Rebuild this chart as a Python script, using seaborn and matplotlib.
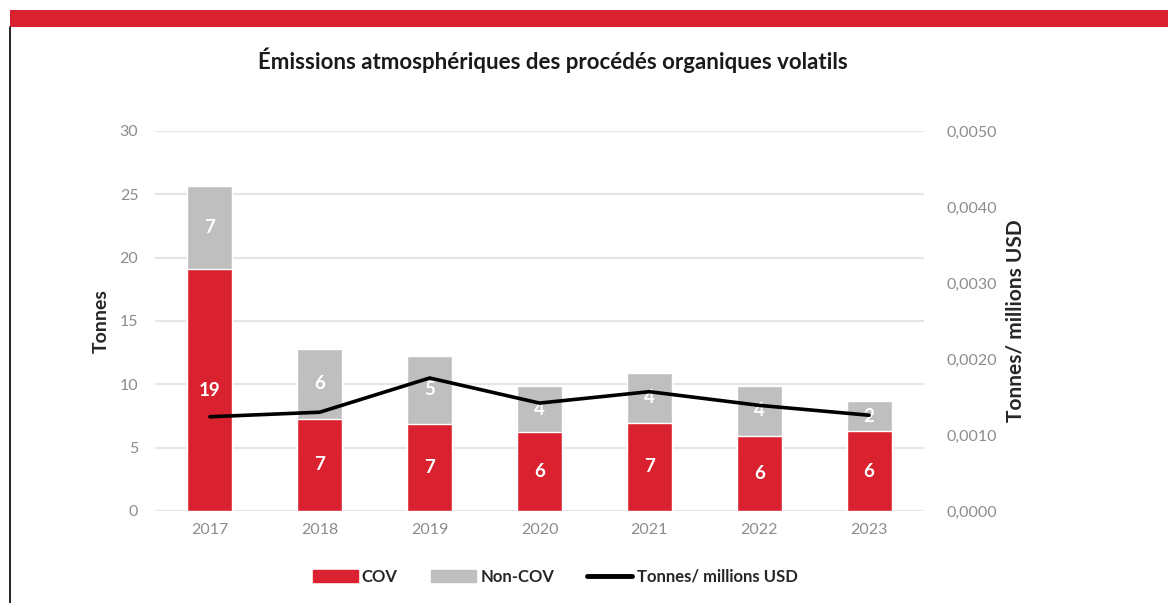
import numpy as np
import pandas as pd
import matplotlib
matplotlib.use("Agg")
import matplotlib.pyplot as plt
import seaborn as sb
from matplotlib.patches import Patch, Rectangle
from matplotlib.lines import Line2D
from matplotlib.ticker import FuncFormatter

years = ["2017", "2018", "2019", "2020", "2021", "2022", "2023"]
cov = [19.1, 7.3, 6.9, 6.2, 6.95, 5.9, 6.3]
non_cov = [6.55, 5.5, 5.35, 3.7, 3.95, 4.0, 2.4]
cov_labels = ["19", "7", "7", "6", "7", "6", "6"]
non_cov_labels = ["7", "6", "5", "4", "4", "4", "2"]
intensity = [0.00124, 0.00130, 0.00175, 0.00142, 0.00157, 0.00139, 0.00126]

red = "#D9212F"
grey = "#BFBFBF"
tick_grey = "#8C8C8C"

sb.set_style("white")
plt.rcParams['font.family'] = ['Lato', 'DejaVu Sans']

df = pd.DataFrame({"year": years, "cov": cov, "non_cov": non_cov, "intensity": intensity})
df["total"] = df["cov"] + df["non_cov"]

fig = plt.figure(figsize=(11.68, 6.03), dpi=100)
ax = fig.add_axes([155/1168, 1 - 511/603, (924-155)/1168, (511-131)/603])

# stacked bars: grey total behind, red COV in front
sb.barplot(data=df, x="year", y="total", color=grey, width=0.41, saturation=1, ax=ax, zorder=2)
sb.barplot(data=df, x="year", y="cov", color=red, width=0.41, saturation=1, ax=ax, zorder=3)

ax.set_ylim(0, 30)
ax.set_xlim(-0.5, 6.5)
ax.set_yticks(range(0, 31, 5))
ax.yaxis.grid(True, color="#E6E6E6", linewidth=1.6, zorder=0)
ax.set_axisbelow(True)
for s in ax.spines.values():
    s.set_visible(False)
ax.tick_params(axis="both", length=0, labelsize=11.5, labelcolor=tick_grey)
ax.tick_params(axis="y", pad=12)
ax.tick_params(axis="x", pad=9)
ax.set_xlabel("")
ax.set_ylabel("Tonnes", fontsize=14, fontweight="bold", labelpad=7)

# value labels
for i in range(len(years)):
    ax.text(i, cov[i] / 2, cov_labels[i], ha="center", va="center", color="white",
            fontsize=13.5, fontweight="bold", zorder=5)
    ax.text(i, cov[i] + non_cov[i] / 2, non_cov_labels[i], ha="center", va="center",
            color="white", fontsize=13.5, fontweight="bold", zorder=5)

ax2 = ax.twinx()
sb.lineplot(x=np.arange(len(years)), y=df["intensity"], color="black", linewidth=2.6, ax=ax2)
ax2.set_ylim(0, 0.005)
ax2.set_yticks(np.arange(0, 0.0051, 0.001))
ax2.yaxis.set_major_formatter(FuncFormatter(lambda v, p: ("%.4f" % v).replace(".", ",")))
for s in ax2.spines.values():
    s.set_visible(False)
ax2.tick_params(axis="y", length=0, labelsize=11.5, labelcolor=tick_grey, pad=16)
ax2.set_ylabel("Tonnes/ millions USD", fontsize=15, fontweight="bold", labelpad=6)
ax2.grid(False)

fig.text(553/1168, 1 - 60/603, "Émissions atmosphériques des procédés organiques volatils",
         ha="center", va="center", fontsize=16, fontweight="bold", color="#1a1a1a")

handles = [Patch(color=red, label="COV"), Patch(color=grey, label="Non-COV"),
           Line2D([0], [0], color="black", linewidth=3.5, label="Tonnes/ millions USD")]
leg = fig.legend(handles=handles, loc="center", bbox_to_anchor=(555/1168, 1 - 577/603), ncol=3,
                 frameon=False, handlelength=2.7, handleheight=0.75, handletextpad=0.25,
                 columnspacing=2.0, prop={"size": 12, "weight": "bold"})

# page decoration: red band on top, black rule on the left
fig.add_artist(Rectangle((10/1168, 1 - 27/603), 1 - 10/1168, 17/603, transform=fig.transFigure,
                         facecolor=red, edgecolor="none"))
fig.add_artist(Line2D([10/1168, 10/1168], [0, 1 - 27/603], transform=fig.transFigure,
                      color="black", linewidth=1.2))

plt.savefig("out.png", dpi=100)
